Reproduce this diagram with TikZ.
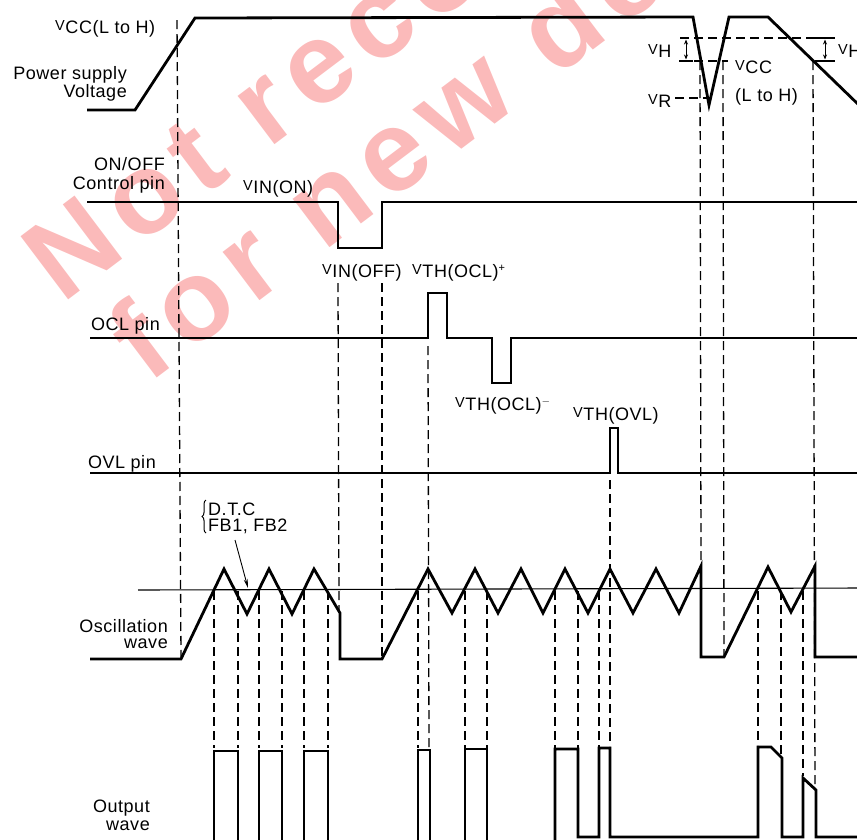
\documentclass[tikz,border=0pt]{standalone}
\usepackage{fontspec}
\setmainfont{Liberation Sans}[LetterSpace=3]
\newfontfamily\wmfont{Liberation Sans}[LetterSpace=10]
\usetikzlibrary{arrows.meta,decorations.pathreplacing}
\definecolor{wmpink}{RGB}{251,186,186}
\newcommand{\Vs}[1]{\raisebox{3pt}{\fontsize{14.5}{14.5}\selectfont V}\kern0.6pt#1}
\newcommand{\supp}[1]{\raisebox{6pt}{\fontsize{11}{11}\selectfont #1}}
\begin{document}
\begin{tikzpicture}[x=1pt,y=-1pt,
  wave/.style={line width=2.8pt, line join=miter},
  guide/.style={line width=1.3pt, dash pattern=on 9pt off 5pt},
  fine/.style={line width=1.1pt},
  lbl/.style={inner sep=0pt, font=\fontsize{18}{18}\selectfont},
  wm/.style={inner sep=0pt, text=wmpink, font=\wmfont\bfseries\fontsize{115}{115}\selectfont}]
\useasboundingbox (0,0) rectangle (857,839);
\clip (0,0) rectangle (857,839);
% watermark
\node[wm, rotate=37, anchor=base west] (wm1) at (62,305) {Not recommended};
\node[wm, rotate=37, anchor=base west] (wm2) at (148,385) {for new design};
% power supply
\draw[wave] (87,110) -- (135,110) -- (195,18) -- (693,17) -- (709,105) -- (729,17) -- (768,17) -- (862,108);
% ON/OFF
\draw[wave] (87,202) -- (338,202) -- (338,248) -- (382,248) -- (382,202) -- (862,202);
% OCL
\draw[wave] (90,338) -- (428,338) -- (428,293) -- (447,293) -- (447,338) -- (492,338) -- (492,383) -- (511,383) -- (511,338) -- (862,338);
% OVL
\draw[wave] (90,473) -- (610,473) -- (610,428) -- (618,428) -- (618,473) -- (862,473);
% oscillation
\draw[fine] (138,590) -- (862,588);
\draw[wave] (90,659) -- (181,659) -- (224,569) -- (247,614) -- (269,569) -- (292,614) -- (314,569) -- (340,613) -- (340,659) -- (382,659)
  -- (428,569) -- (452,613) -- (475,569) -- (498,613) -- (521,569) -- (543,613) -- (565,569) -- (588,613) -- (610,569)
  -- (633,613) -- (656,569) -- (679,613) -- (701,566) -- (701,657) -- (724,657) -- (768,567) -- (791,612) -- (815,566)
  -- (815,657) -- (862,657);
% output pulses
\draw[wave] (214,845) -- (214,751) -- (238,751) -- (238,845);
\draw[wave] (259,845) -- (259,751) -- (282,751) -- (282,845);
\draw[wave] (304,845) -- (304,751) -- (328,751) -- (328,845);
\draw[wave] (418,845) -- (418,750) -- (430,750) -- (430,845);
\draw[wave] (465,845) -- (465,749) -- (487,749) -- (487,845);
\draw[wave] (555,845) -- (555,749) -- (578,749) -- (578,837) -- (599,837) -- (599,748) -- (610,748) -- (610,837)
  -- (758,837) -- (758,747) -- (771,747) -- (782,758) -- (782,837) -- (803,837) -- (803,778) -- (816,790) -- (816,837) -- (862,837);
% long guides
\draw[guide] (177,20) -- (181,657);
\draw[guide] (338,283) -- (339,611);
\draw[guide] (382,283) -- (382,657);
\draw[guide] (428,346) -- (429,748);
\draw[guide] (610,480) -- (610,746);
\draw[guide] (700,61) -- (701,564);
\draw[guide] (723,61) -- (724,655);
\draw[guide] (813,61) -- (815,788);
% crossing guides
\foreach \xx in {214,238,259,282,304,328,418,465,487,555,578,599}
  \draw[guide] (\xx,591) -- (\xx,748);
\draw[guide] (758,591) -- (758,745);
\draw[guide] (781,591) -- (781,756);
\draw[guide] (803,591) -- (803,776);
% VH / VR marks
\draw[guide] (680,38) -- (823,38);
\draw[guide] (680,61) -- (728,61);
\draw[line width=1.2pt] (679,61) -- (693,61);
\draw[line width=1pt, {Stealth[length=5pt,width=4pt]}-{Stealth[length=5pt,width=4pt]}] (686,39.5) -- (686,59.5);
\draw[line width=1.2pt] (815,38) -- (835,38);
\draw[line width=1.2pt] (815,61) -- (835,61);
\draw[line width=1pt, {Stealth[length=5pt,width=4pt]}-{Stealth[length=5pt,width=4pt]}] (825,39.5) -- (825,59.5);
\draw[guide] (675,98) -- (707,98);
% labels
\node[lbl, anchor=base west] (vcc) at (55,33) {\Vs{CC(L to H)}};
\node[lbl, anchor=base east] (ps1) at (127,79) {Power supply};
\node[lbl, anchor=base east] (ps2) at (127,97) {Voltage};
\node[lbl, anchor=base east] (on1) at (165,170) {ON/OFF};
\node[lbl, anchor=base east] (on2) at (165,189) {Control pin};
\node[lbl, anchor=base west] (vinon) at (243,193) {\Vs{IN(ON)}};
\node[lbl, anchor=base west] (vinoff) at (322,277) {\Vs{IN(OFF)}};
\node[lbl, anchor=base west] (vocp) at (412,277) {\Vs{TH(OCL)}\supp{+}};
\node[lbl, anchor=base east] (ocl) at (160,330) {OCL pin};
\node[lbl, anchor=base west] (vocm) at (455,410) {\Vs{TH(OCL)}\supp{$-$}};
\node[lbl, anchor=base west] (vovl) at (573,420) {\Vs{TH(OVL)}};
\node[lbl, anchor=base east] (ovl) at (156,468) {OVL pin};
\node[lbl, anchor=base west] (dtc) at (208,515) {D.T.C};
\node[lbl, anchor=base west] (fb) at (208,531) {FB1, FB2};
\draw[line width=1pt, decorate, decoration={brace, amplitude=4pt}] (206,533) -- (206,500);
\draw[line width=0.9pt, -{Stealth[length=9pt,width=4pt]}] (235,540) -- (248,588);
\node[lbl, anchor=base east] (osc1) at (168,632) {Oscillation};
\node[lbl, anchor=base east] (osc2) at (168,648) {wave};
\node[lbl, anchor=base east] (out1) at (150,812) {Output};
\node[lbl, anchor=base east] (out2) at (150,830) {wave};
\node[lbl, anchor=base west] (vh1) at (648,57) {\Vs{H}};
\node[lbl, anchor=base west] (vr) at (648,107) {\Vs{R}};
\node[lbl, anchor=base west] (vcc2) at (735,73) {\Vs{CC}};
\node[lbl, anchor=base west] (lh) at (735,101) {(L to H)};
\node[lbl, anchor=base west] (vh2) at (838,57) {\Vs{H}};
\end{tikzpicture}
\end{document}
